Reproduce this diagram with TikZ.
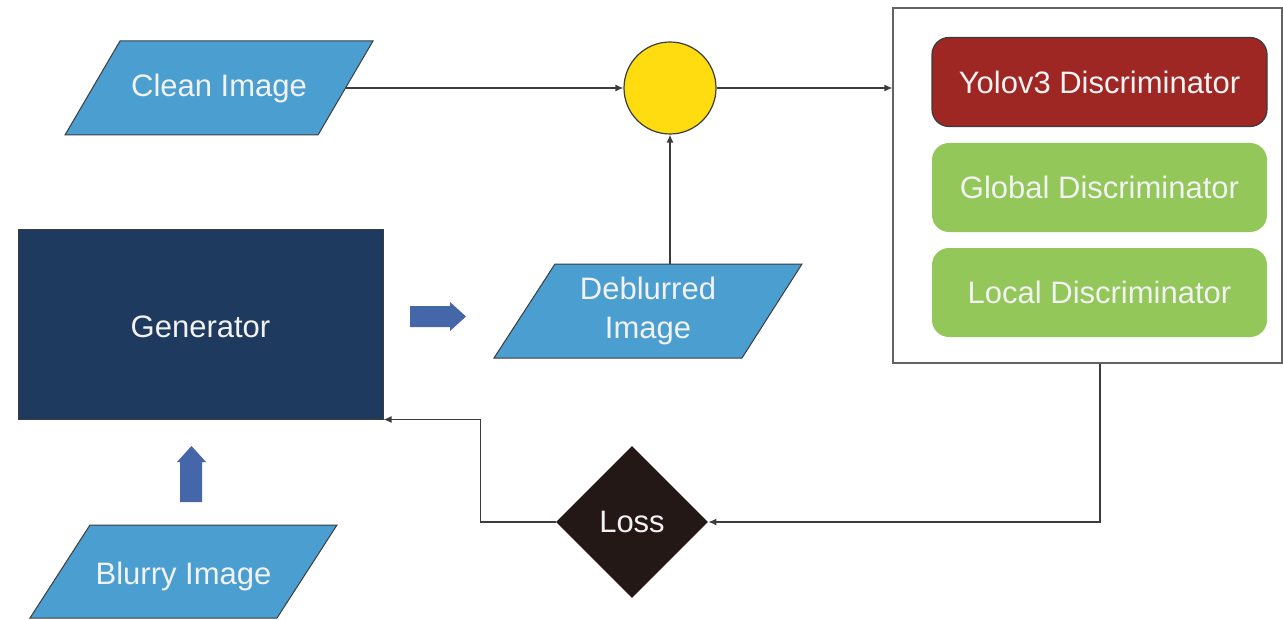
\documentclass[tikz,border=0pt]{standalone}
\usepackage{fontspec}
\setmainfont{Liberation Sans}
\usetikzlibrary{arrows.meta,shapes.geometric,backgrounds}
\definecolor{pblue}{HTML}{4B9ED0}
\definecolor{navy}{HTML}{1F3A5F}
\definecolor{dred}{HTML}{9E2623}
\definecolor{lgreen}{HTML}{93C75A}
\definecolor{yel}{HTML}{FFDC0F}
\definecolor{dark}{HTML}{231815}
\definecolor{barrow}{HTML}{4566A8}
\definecolor{lin}{HTML}{3C3C3C}
\definecolor{txt}{HTML}{F2F2F2}
\begin{document}
\begin{tikzpicture}[x=0.5pt,y=-0.5pt,
  every node/.style={font=\fontsize{15.5}{19.5}\selectfont, text=txt},
  paratext/.style={inner sep=0pt, align=center, minimum width=#1, minimum height=47pt},
  parafill/.style={fill=pblue, draw=lin, line width=0.5pt},
  disc/.style={rounded corners=8.5pt, minimum width=167.5pt, minimum height=44.5pt, inner sep=0pt},
  arr/.style={draw=lin, line width=0.6pt, -{Latex[length=4pt,width=3.5pt]}},
  blockarrow/.style={fill=barrow}
]
\useasboundingbox (0,0) rectangle (1283,620);

% Clean Image
\path[parafill] (120,41) -- (373,41) -- (318,135) -- (65,135) -- cycle;
\node[paratext=126.5pt] (clean) at (219,88) {Clean Image};

% Deblurred Image
\path[parafill] (555,264) -- (802,264) -- (742,358) -- (494,358) -- cycle;
\node[paratext=124pt] (deb) at (648,311) {Deblurred\\Image};

% Blurry Image
\path[parafill] (90,525) -- (337,525) -- (277,618) -- (30,618) -- cycle;
\node[paratext=124pt] (blurry) at (183.5,571.5) {};
\node (blurrylbl) at ([yshift=-2.5pt]blurry.center) {Blurry Image};

% Generator
\node[fill=navy, draw=lin, line width=0.5pt, minimum width=182.5pt, minimum height=95pt, inner sep=0pt] (gen) at (200.5,324) {};
\node (genlbl) at ([yshift=-1.5pt]gen.center) {Generator};

% Combine circle
\node[circle, fill=yel, draw=lin, line width=0.6pt, minimum size=46pt, inner sep=0pt] (circ) at (670,88) {};

% Discriminator box
\node[draw=lin!80, line width=0.6pt, minimum width=194.5pt, minimum height=177.5pt, inner sep=0pt] (box) at (1087.5,185.5) {};
\node[disc, fill=dred, draw=lin, line width=0.6pt] (yolo) at (1099.5,82) {Yolov3 Discriminator};
\node[disc, fill=lgreen] (global) at (1099.5,187.5) {Global Discriminator};
\node[disc, fill=lgreen] (local) at (1099.5,292.5) {Local Discriminator};

% Loss
\node[diamond, aspect=1, fill=dark, minimum size=76pt, inner sep=0pt] (loss) at (632,522) {Loss};

% Block arrows
\path[blockarrow] (410,306) -- (450,306) -- (450,302) -- (466,316.5) -- (450,331) -- (450,327) -- (410,327) -- cycle;
\path[blockarrow] (180,502) -- (180,462) -- (177,462) -- (191.5,446) -- (206,462) -- (202,462) -- (202,502) -- cycle;

% Connectors
\draw[arr] (clean.east) -- (circ.west);
\draw[arr] (circ.east) -- (circ.east -| box.west);
\draw[arr] (deb.north -| circ.south) -- (circ.south);
\draw[arr] ([xshift=6.25pt]box.south) |- (loss.east);
\draw[arr] (loss.west) -| ([xshift=48.5pt]gen.south east) -- (gen.south east);
\end{tikzpicture}
\end{document}
